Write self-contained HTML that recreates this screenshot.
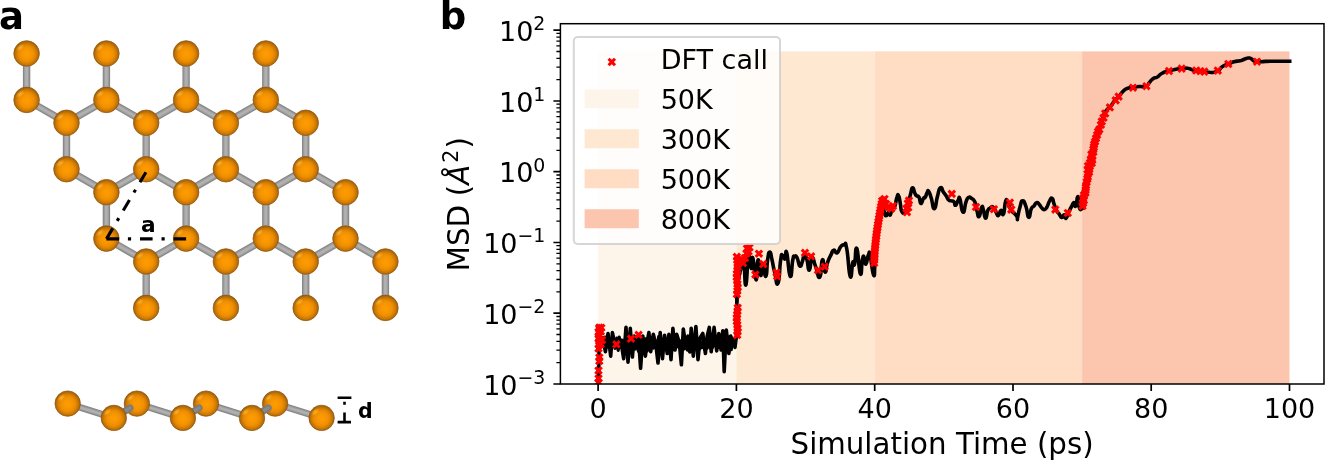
<!DOCTYPE html>
<html lang="en">
<head>
<meta charset="utf-8">
<title>Figure: structure and MSD vs simulation time</title>
<style>html,body{margin:0;padding:0;background:#fff;}body{width:1325px;height:460px;overflow:hidden;}svg{display:block;}</style>
</head>
<body>
<svg width="1325" height="460" viewBox="0 0 1325 460">
<defs>
<radialGradient id="at" cx="0.5" cy="0.52" r="0.52">
<stop offset="0" stop-color="#ff9c00"/>
<stop offset="0.3" stop-color="#f99700"/>
<stop offset="0.55" stop-color="#ee8f02"/>
<stop offset="0.74" stop-color="#d47d04"/>
<stop offset="0.9" stop-color="#b26a06"/>
<stop offset="1" stop-color="#94590a"/>
</radialGradient>
<radialGradient id="hl" cx="0.5" cy="0.5" r="0.5">
<stop offset="0" stop-color="#ffba3c" stop-opacity="0.85"/>
<stop offset="1" stop-color="#ffba3c" stop-opacity="0"/>
</radialGradient>
<clipPath id="axclip"><rect x="560.4" y="23.7" width="763.6" height="360.3"/></clipPath>
<path id="mk" d="M-4.3,-2.15 L-2.15,-4.3 L0,-2.15 L2.15,-4.3 L4.3,-2.15 L2.15,0 L4.3,2.15 L2.15,4.3 L0,2.15 L-2.15,4.3 L-4.3,2.15 L-2.15,0 Z"/>
</defs>
<rect width="1325" height="460" fill="#ffffff"/>
<g id="panel-a">
<line x1="26.6" y1="53.5" x2="26.6" y2="99.9" stroke="#878787" stroke-width="7.4"/>
<line x1="26.6" y1="53.5" x2="26.6" y2="99.9" stroke="#9d9d9d" stroke-width="5.2"/>
<line x1="26.6" y1="53.5" x2="26.6" y2="99.9" stroke="#b0b0b0" stroke-width="2.8"/>
<line x1="66.5" y1="122.8" x2="66.5" y2="169.2" stroke="#878787" stroke-width="7.4"/>
<line x1="66.5" y1="122.8" x2="66.5" y2="169.2" stroke="#9d9d9d" stroke-width="5.2"/>
<line x1="66.5" y1="122.8" x2="66.5" y2="169.2" stroke="#b0b0b0" stroke-width="2.8"/>
<line x1="106.4" y1="192.2" x2="106.4" y2="238.6" stroke="#878787" stroke-width="7.4"/>
<line x1="106.4" y1="192.2" x2="106.4" y2="238.6" stroke="#9d9d9d" stroke-width="5.2"/>
<line x1="106.4" y1="192.2" x2="106.4" y2="238.6" stroke="#b0b0b0" stroke-width="2.8"/>
<line x1="146.2" y1="261.5" x2="146.2" y2="307.9" stroke="#878787" stroke-width="7.4"/>
<line x1="146.2" y1="261.5" x2="146.2" y2="307.9" stroke="#9d9d9d" stroke-width="5.2"/>
<line x1="146.2" y1="261.5" x2="146.2" y2="307.9" stroke="#b0b0b0" stroke-width="2.8"/>
<line x1="26.6" y1="99.9" x2="66.5" y2="122.8" stroke="#878787" stroke-width="7.4"/>
<line x1="26.6" y1="99.9" x2="66.5" y2="122.8" stroke="#9d9d9d" stroke-width="5.2"/>
<line x1="26.6" y1="99.9" x2="66.5" y2="122.8" stroke="#b0b0b0" stroke-width="2.8"/>
<line x1="66.5" y1="169.2" x2="106.4" y2="192.2" stroke="#878787" stroke-width="7.4"/>
<line x1="66.5" y1="169.2" x2="106.4" y2="192.2" stroke="#9d9d9d" stroke-width="5.2"/>
<line x1="66.5" y1="169.2" x2="106.4" y2="192.2" stroke="#b0b0b0" stroke-width="2.8"/>
<line x1="106.4" y1="238.6" x2="146.2" y2="261.5" stroke="#878787" stroke-width="7.4"/>
<line x1="106.4" y1="238.6" x2="146.2" y2="261.5" stroke="#9d9d9d" stroke-width="5.2"/>
<line x1="106.4" y1="238.6" x2="146.2" y2="261.5" stroke="#b0b0b0" stroke-width="2.8"/>
<line x1="106.4" y1="53.5" x2="106.4" y2="99.9" stroke="#878787" stroke-width="7.4"/>
<line x1="106.4" y1="53.5" x2="106.4" y2="99.9" stroke="#9d9d9d" stroke-width="5.2"/>
<line x1="106.4" y1="53.5" x2="106.4" y2="99.9" stroke="#b0b0b0" stroke-width="2.8"/>
<line x1="146.2" y1="122.8" x2="146.2" y2="169.2" stroke="#878787" stroke-width="7.4"/>
<line x1="146.2" y1="122.8" x2="146.2" y2="169.2" stroke="#9d9d9d" stroke-width="5.2"/>
<line x1="146.2" y1="122.8" x2="146.2" y2="169.2" stroke="#b0b0b0" stroke-width="2.8"/>
<line x1="186.1" y1="192.2" x2="186.1" y2="238.6" stroke="#878787" stroke-width="7.4"/>
<line x1="186.1" y1="192.2" x2="186.1" y2="238.6" stroke="#9d9d9d" stroke-width="5.2"/>
<line x1="186.1" y1="192.2" x2="186.1" y2="238.6" stroke="#b0b0b0" stroke-width="2.8"/>
<line x1="225.9" y1="261.5" x2="225.9" y2="307.9" stroke="#878787" stroke-width="7.4"/>
<line x1="225.9" y1="261.5" x2="225.9" y2="307.9" stroke="#9d9d9d" stroke-width="5.2"/>
<line x1="225.9" y1="261.5" x2="225.9" y2="307.9" stroke="#b0b0b0" stroke-width="2.8"/>
<line x1="106.4" y1="99.9" x2="146.2" y2="122.8" stroke="#878787" stroke-width="7.4"/>
<line x1="106.4" y1="99.9" x2="146.2" y2="122.8" stroke="#9d9d9d" stroke-width="5.2"/>
<line x1="106.4" y1="99.9" x2="146.2" y2="122.8" stroke="#b0b0b0" stroke-width="2.8"/>
<line x1="106.4" y1="99.9" x2="66.5" y2="122.8" stroke="#878787" stroke-width="7.4"/>
<line x1="106.4" y1="99.9" x2="66.5" y2="122.8" stroke="#9d9d9d" stroke-width="5.2"/>
<line x1="106.4" y1="99.9" x2="66.5" y2="122.8" stroke="#b0b0b0" stroke-width="2.8"/>
<line x1="146.2" y1="169.2" x2="186.1" y2="192.2" stroke="#878787" stroke-width="7.4"/>
<line x1="146.2" y1="169.2" x2="186.1" y2="192.2" stroke="#9d9d9d" stroke-width="5.2"/>
<line x1="146.2" y1="169.2" x2="186.1" y2="192.2" stroke="#b0b0b0" stroke-width="2.8"/>
<line x1="146.2" y1="169.2" x2="106.4" y2="192.2" stroke="#878787" stroke-width="7.4"/>
<line x1="146.2" y1="169.2" x2="106.4" y2="192.2" stroke="#9d9d9d" stroke-width="5.2"/>
<line x1="146.2" y1="169.2" x2="106.4" y2="192.2" stroke="#b0b0b0" stroke-width="2.8"/>
<line x1="186.1" y1="238.6" x2="225.9" y2="261.5" stroke="#878787" stroke-width="7.4"/>
<line x1="186.1" y1="238.6" x2="225.9" y2="261.5" stroke="#9d9d9d" stroke-width="5.2"/>
<line x1="186.1" y1="238.6" x2="225.9" y2="261.5" stroke="#b0b0b0" stroke-width="2.8"/>
<line x1="186.1" y1="238.6" x2="146.2" y2="261.5" stroke="#878787" stroke-width="7.4"/>
<line x1="186.1" y1="238.6" x2="146.2" y2="261.5" stroke="#9d9d9d" stroke-width="5.2"/>
<line x1="186.1" y1="238.6" x2="146.2" y2="261.5" stroke="#b0b0b0" stroke-width="2.8"/>
<line x1="186.1" y1="53.5" x2="186.1" y2="99.9" stroke="#878787" stroke-width="7.4"/>
<line x1="186.1" y1="53.5" x2="186.1" y2="99.9" stroke="#9d9d9d" stroke-width="5.2"/>
<line x1="186.1" y1="53.5" x2="186.1" y2="99.9" stroke="#b0b0b0" stroke-width="2.8"/>
<line x1="225.9" y1="122.8" x2="225.9" y2="169.2" stroke="#878787" stroke-width="7.4"/>
<line x1="225.9" y1="122.8" x2="225.9" y2="169.2" stroke="#9d9d9d" stroke-width="5.2"/>
<line x1="225.9" y1="122.8" x2="225.9" y2="169.2" stroke="#b0b0b0" stroke-width="2.8"/>
<line x1="265.8" y1="192.2" x2="265.8" y2="238.6" stroke="#878787" stroke-width="7.4"/>
<line x1="265.8" y1="192.2" x2="265.8" y2="238.6" stroke="#9d9d9d" stroke-width="5.2"/>
<line x1="265.8" y1="192.2" x2="265.8" y2="238.6" stroke="#b0b0b0" stroke-width="2.8"/>
<line x1="305.7" y1="261.5" x2="305.7" y2="307.9" stroke="#878787" stroke-width="7.4"/>
<line x1="305.7" y1="261.5" x2="305.7" y2="307.9" stroke="#9d9d9d" stroke-width="5.2"/>
<line x1="305.7" y1="261.5" x2="305.7" y2="307.9" stroke="#b0b0b0" stroke-width="2.8"/>
<line x1="186.1" y1="99.9" x2="225.9" y2="122.8" stroke="#878787" stroke-width="7.4"/>
<line x1="186.1" y1="99.9" x2="225.9" y2="122.8" stroke="#9d9d9d" stroke-width="5.2"/>
<line x1="186.1" y1="99.9" x2="225.9" y2="122.8" stroke="#b0b0b0" stroke-width="2.8"/>
<line x1="186.1" y1="99.9" x2="146.2" y2="122.8" stroke="#878787" stroke-width="7.4"/>
<line x1="186.1" y1="99.9" x2="146.2" y2="122.8" stroke="#9d9d9d" stroke-width="5.2"/>
<line x1="186.1" y1="99.9" x2="146.2" y2="122.8" stroke="#b0b0b0" stroke-width="2.8"/>
<line x1="225.9" y1="169.2" x2="265.8" y2="192.2" stroke="#878787" stroke-width="7.4"/>
<line x1="225.9" y1="169.2" x2="265.8" y2="192.2" stroke="#9d9d9d" stroke-width="5.2"/>
<line x1="225.9" y1="169.2" x2="265.8" y2="192.2" stroke="#b0b0b0" stroke-width="2.8"/>
<line x1="225.9" y1="169.2" x2="186.1" y2="192.2" stroke="#878787" stroke-width="7.4"/>
<line x1="225.9" y1="169.2" x2="186.1" y2="192.2" stroke="#9d9d9d" stroke-width="5.2"/>
<line x1="225.9" y1="169.2" x2="186.1" y2="192.2" stroke="#b0b0b0" stroke-width="2.8"/>
<line x1="265.8" y1="238.6" x2="305.7" y2="261.5" stroke="#878787" stroke-width="7.4"/>
<line x1="265.8" y1="238.6" x2="305.7" y2="261.5" stroke="#9d9d9d" stroke-width="5.2"/>
<line x1="265.8" y1="238.6" x2="305.7" y2="261.5" stroke="#b0b0b0" stroke-width="2.8"/>
<line x1="265.8" y1="238.6" x2="225.9" y2="261.5" stroke="#878787" stroke-width="7.4"/>
<line x1="265.8" y1="238.6" x2="225.9" y2="261.5" stroke="#9d9d9d" stroke-width="5.2"/>
<line x1="265.8" y1="238.6" x2="225.9" y2="261.5" stroke="#b0b0b0" stroke-width="2.8"/>
<line x1="265.8" y1="53.5" x2="265.8" y2="99.9" stroke="#878787" stroke-width="7.4"/>
<line x1="265.8" y1="53.5" x2="265.8" y2="99.9" stroke="#9d9d9d" stroke-width="5.2"/>
<line x1="265.8" y1="53.5" x2="265.8" y2="99.9" stroke="#b0b0b0" stroke-width="2.8"/>
<line x1="305.7" y1="122.8" x2="305.7" y2="169.2" stroke="#878787" stroke-width="7.4"/>
<line x1="305.7" y1="122.8" x2="305.7" y2="169.2" stroke="#9d9d9d" stroke-width="5.2"/>
<line x1="305.7" y1="122.8" x2="305.7" y2="169.2" stroke="#b0b0b0" stroke-width="2.8"/>
<line x1="345.5" y1="192.2" x2="345.5" y2="238.6" stroke="#878787" stroke-width="7.4"/>
<line x1="345.5" y1="192.2" x2="345.5" y2="238.6" stroke="#9d9d9d" stroke-width="5.2"/>
<line x1="345.5" y1="192.2" x2="345.5" y2="238.6" stroke="#b0b0b0" stroke-width="2.8"/>
<line x1="385.4" y1="261.5" x2="385.4" y2="307.9" stroke="#878787" stroke-width="7.4"/>
<line x1="385.4" y1="261.5" x2="385.4" y2="307.9" stroke="#9d9d9d" stroke-width="5.2"/>
<line x1="385.4" y1="261.5" x2="385.4" y2="307.9" stroke="#b0b0b0" stroke-width="2.8"/>
<line x1="265.8" y1="99.9" x2="305.7" y2="122.8" stroke="#878787" stroke-width="7.4"/>
<line x1="265.8" y1="99.9" x2="305.7" y2="122.8" stroke="#9d9d9d" stroke-width="5.2"/>
<line x1="265.8" y1="99.9" x2="305.7" y2="122.8" stroke="#b0b0b0" stroke-width="2.8"/>
<line x1="265.8" y1="99.9" x2="225.9" y2="122.8" stroke="#878787" stroke-width="7.4"/>
<line x1="265.8" y1="99.9" x2="225.9" y2="122.8" stroke="#9d9d9d" stroke-width="5.2"/>
<line x1="265.8" y1="99.9" x2="225.9" y2="122.8" stroke="#b0b0b0" stroke-width="2.8"/>
<line x1="305.7" y1="169.2" x2="345.5" y2="192.2" stroke="#878787" stroke-width="7.4"/>
<line x1="305.7" y1="169.2" x2="345.5" y2="192.2" stroke="#9d9d9d" stroke-width="5.2"/>
<line x1="305.7" y1="169.2" x2="345.5" y2="192.2" stroke="#b0b0b0" stroke-width="2.8"/>
<line x1="305.7" y1="169.2" x2="265.8" y2="192.2" stroke="#878787" stroke-width="7.4"/>
<line x1="305.7" y1="169.2" x2="265.8" y2="192.2" stroke="#9d9d9d" stroke-width="5.2"/>
<line x1="305.7" y1="169.2" x2="265.8" y2="192.2" stroke="#b0b0b0" stroke-width="2.8"/>
<line x1="345.5" y1="238.6" x2="385.4" y2="261.5" stroke="#878787" stroke-width="7.4"/>
<line x1="345.5" y1="238.6" x2="385.4" y2="261.5" stroke="#9d9d9d" stroke-width="5.2"/>
<line x1="345.5" y1="238.6" x2="385.4" y2="261.5" stroke="#b0b0b0" stroke-width="2.8"/>
<line x1="345.5" y1="238.6" x2="305.7" y2="261.5" stroke="#878787" stroke-width="7.4"/>
<line x1="345.5" y1="238.6" x2="305.7" y2="261.5" stroke="#9d9d9d" stroke-width="5.2"/>
<line x1="345.5" y1="238.6" x2="305.7" y2="261.5" stroke="#b0b0b0" stroke-width="2.8"/>
<circle cx="26.6" cy="53.5" r="12.8" fill="url(#at)" stroke="#8f5812" stroke-opacity="0.85" stroke-width="0.9"/>
<ellipse cx="20.2" cy="47.6" rx="5.2" ry="2.7" fill="url(#hl)" transform="rotate(-40 20.2 47.6)"/>
<circle cx="106.4" cy="53.5" r="12.8" fill="url(#at)" stroke="#8f5812" stroke-opacity="0.85" stroke-width="0.9"/>
<ellipse cx="100.0" cy="47.6" rx="5.2" ry="2.7" fill="url(#hl)" transform="rotate(-40 100.0 47.6)"/>
<circle cx="186.1" cy="53.5" r="12.8" fill="url(#at)" stroke="#8f5812" stroke-opacity="0.85" stroke-width="0.9"/>
<ellipse cx="179.7" cy="47.6" rx="5.2" ry="2.7" fill="url(#hl)" transform="rotate(-40 179.7 47.6)"/>
<circle cx="265.8" cy="53.5" r="12.8" fill="url(#at)" stroke="#8f5812" stroke-opacity="0.85" stroke-width="0.9"/>
<ellipse cx="259.4" cy="47.6" rx="5.2" ry="2.7" fill="url(#hl)" transform="rotate(-40 259.4 47.6)"/>
<circle cx="26.6" cy="99.9" r="12.8" fill="url(#at)" stroke="#8f5812" stroke-opacity="0.85" stroke-width="0.9"/>
<ellipse cx="20.2" cy="94.0" rx="5.2" ry="2.7" fill="url(#hl)" transform="rotate(-40 20.2 94.0)"/>
<circle cx="106.4" cy="99.9" r="12.8" fill="url(#at)" stroke="#8f5812" stroke-opacity="0.85" stroke-width="0.9"/>
<ellipse cx="100.0" cy="94.0" rx="5.2" ry="2.7" fill="url(#hl)" transform="rotate(-40 100.0 94.0)"/>
<circle cx="186.1" cy="99.9" r="12.8" fill="url(#at)" stroke="#8f5812" stroke-opacity="0.85" stroke-width="0.9"/>
<ellipse cx="179.7" cy="94.0" rx="5.2" ry="2.7" fill="url(#hl)" transform="rotate(-40 179.7 94.0)"/>
<circle cx="265.8" cy="99.9" r="12.8" fill="url(#at)" stroke="#8f5812" stroke-opacity="0.85" stroke-width="0.9"/>
<ellipse cx="259.4" cy="94.0" rx="5.2" ry="2.7" fill="url(#hl)" transform="rotate(-40 259.4 94.0)"/>
<circle cx="66.5" cy="122.8" r="12.8" fill="url(#at)" stroke="#8f5812" stroke-opacity="0.85" stroke-width="0.9"/>
<ellipse cx="60.1" cy="116.9" rx="5.2" ry="2.7" fill="url(#hl)" transform="rotate(-40 60.1 116.9)"/>
<circle cx="146.2" cy="122.8" r="12.8" fill="url(#at)" stroke="#8f5812" stroke-opacity="0.85" stroke-width="0.9"/>
<ellipse cx="139.8" cy="116.9" rx="5.2" ry="2.7" fill="url(#hl)" transform="rotate(-40 139.8 116.9)"/>
<circle cx="225.9" cy="122.8" r="12.8" fill="url(#at)" stroke="#8f5812" stroke-opacity="0.85" stroke-width="0.9"/>
<ellipse cx="219.5" cy="116.9" rx="5.2" ry="2.7" fill="url(#hl)" transform="rotate(-40 219.5 116.9)"/>
<circle cx="305.7" cy="122.8" r="12.8" fill="url(#at)" stroke="#8f5812" stroke-opacity="0.85" stroke-width="0.9"/>
<ellipse cx="299.3" cy="116.9" rx="5.2" ry="2.7" fill="url(#hl)" transform="rotate(-40 299.3 116.9)"/>
<circle cx="66.5" cy="169.2" r="12.8" fill="url(#at)" stroke="#8f5812" stroke-opacity="0.85" stroke-width="0.9"/>
<ellipse cx="60.1" cy="163.3" rx="5.2" ry="2.7" fill="url(#hl)" transform="rotate(-40 60.1 163.3)"/>
<circle cx="146.2" cy="169.2" r="12.8" fill="url(#at)" stroke="#8f5812" stroke-opacity="0.85" stroke-width="0.9"/>
<ellipse cx="139.8" cy="163.3" rx="5.2" ry="2.7" fill="url(#hl)" transform="rotate(-40 139.8 163.3)"/>
<circle cx="225.9" cy="169.2" r="12.8" fill="url(#at)" stroke="#8f5812" stroke-opacity="0.85" stroke-width="0.9"/>
<ellipse cx="219.5" cy="163.3" rx="5.2" ry="2.7" fill="url(#hl)" transform="rotate(-40 219.5 163.3)"/>
<circle cx="305.7" cy="169.2" r="12.8" fill="url(#at)" stroke="#8f5812" stroke-opacity="0.85" stroke-width="0.9"/>
<ellipse cx="299.3" cy="163.3" rx="5.2" ry="2.7" fill="url(#hl)" transform="rotate(-40 299.3 163.3)"/>
<circle cx="106.4" cy="192.2" r="12.8" fill="url(#at)" stroke="#8f5812" stroke-opacity="0.85" stroke-width="0.9"/>
<ellipse cx="100.0" cy="186.3" rx="5.2" ry="2.7" fill="url(#hl)" transform="rotate(-40 100.0 186.3)"/>
<circle cx="186.1" cy="192.2" r="12.8" fill="url(#at)" stroke="#8f5812" stroke-opacity="0.85" stroke-width="0.9"/>
<ellipse cx="179.7" cy="186.3" rx="5.2" ry="2.7" fill="url(#hl)" transform="rotate(-40 179.7 186.3)"/>
<circle cx="265.8" cy="192.2" r="12.8" fill="url(#at)" stroke="#8f5812" stroke-opacity="0.85" stroke-width="0.9"/>
<ellipse cx="259.4" cy="186.3" rx="5.2" ry="2.7" fill="url(#hl)" transform="rotate(-40 259.4 186.3)"/>
<circle cx="345.5" cy="192.2" r="12.8" fill="url(#at)" stroke="#8f5812" stroke-opacity="0.85" stroke-width="0.9"/>
<ellipse cx="339.1" cy="186.3" rx="5.2" ry="2.7" fill="url(#hl)" transform="rotate(-40 339.1 186.3)"/>
<circle cx="106.4" cy="238.6" r="12.8" fill="url(#at)" stroke="#8f5812" stroke-opacity="0.85" stroke-width="0.9"/>
<ellipse cx="100.0" cy="232.7" rx="5.2" ry="2.7" fill="url(#hl)" transform="rotate(-40 100.0 232.7)"/>
<circle cx="186.1" cy="238.6" r="12.8" fill="url(#at)" stroke="#8f5812" stroke-opacity="0.85" stroke-width="0.9"/>
<ellipse cx="179.7" cy="232.7" rx="5.2" ry="2.7" fill="url(#hl)" transform="rotate(-40 179.7 232.7)"/>
<circle cx="265.8" cy="238.6" r="12.8" fill="url(#at)" stroke="#8f5812" stroke-opacity="0.85" stroke-width="0.9"/>
<ellipse cx="259.4" cy="232.7" rx="5.2" ry="2.7" fill="url(#hl)" transform="rotate(-40 259.4 232.7)"/>
<circle cx="345.5" cy="238.6" r="12.8" fill="url(#at)" stroke="#8f5812" stroke-opacity="0.85" stroke-width="0.9"/>
<ellipse cx="339.1" cy="232.7" rx="5.2" ry="2.7" fill="url(#hl)" transform="rotate(-40 339.1 232.7)"/>
<circle cx="146.2" cy="261.5" r="12.8" fill="url(#at)" stroke="#8f5812" stroke-opacity="0.85" stroke-width="0.9"/>
<ellipse cx="139.8" cy="255.6" rx="5.2" ry="2.7" fill="url(#hl)" transform="rotate(-40 139.8 255.6)"/>
<circle cx="225.9" cy="261.5" r="12.8" fill="url(#at)" stroke="#8f5812" stroke-opacity="0.85" stroke-width="0.9"/>
<ellipse cx="219.5" cy="255.6" rx="5.2" ry="2.7" fill="url(#hl)" transform="rotate(-40 219.5 255.6)"/>
<circle cx="305.7" cy="261.5" r="12.8" fill="url(#at)" stroke="#8f5812" stroke-opacity="0.85" stroke-width="0.9"/>
<ellipse cx="299.3" cy="255.6" rx="5.2" ry="2.7" fill="url(#hl)" transform="rotate(-40 299.3 255.6)"/>
<circle cx="385.4" cy="261.5" r="12.8" fill="url(#at)" stroke="#8f5812" stroke-opacity="0.85" stroke-width="0.9"/>
<ellipse cx="379.0" cy="255.6" rx="5.2" ry="2.7" fill="url(#hl)" transform="rotate(-40 379.0 255.6)"/>
<circle cx="146.2" cy="307.9" r="12.8" fill="url(#at)" stroke="#8f5812" stroke-opacity="0.85" stroke-width="0.9"/>
<ellipse cx="139.8" cy="302.0" rx="5.2" ry="2.7" fill="url(#hl)" transform="rotate(-40 139.8 302.0)"/>
<circle cx="225.9" cy="307.9" r="12.8" fill="url(#at)" stroke="#8f5812" stroke-opacity="0.85" stroke-width="0.9"/>
<ellipse cx="219.5" cy="302.0" rx="5.2" ry="2.7" fill="url(#hl)" transform="rotate(-40 219.5 302.0)"/>
<circle cx="305.7" cy="307.9" r="12.8" fill="url(#at)" stroke="#8f5812" stroke-opacity="0.85" stroke-width="0.9"/>
<ellipse cx="299.3" cy="302.0" rx="5.2" ry="2.7" fill="url(#hl)" transform="rotate(-40 299.3 302.0)"/>
<circle cx="385.4" cy="307.9" r="12.8" fill="url(#at)" stroke="#8f5812" stroke-opacity="0.85" stroke-width="0.9"/>
<ellipse cx="379.0" cy="302.0" rx="5.2" ry="2.7" fill="url(#hl)" transform="rotate(-40 379.0 302.0)"/>
<g stroke="#000" stroke-width="3.1" fill="none">
<path d="M106.4,238.9 H186.1" stroke-dasharray="12.6 8.9 3.2 8.9"/>
<path d="M106.5,238.9 L145.9,172.3" stroke-dasharray="12.2 8.75 3.2 8.75"/>
</g>
<text x="141.1" y="232.35" font-family="'DejaVu Sans','Liberation Sans',sans-serif" font-weight="bold" font-size="21.7">a</text>
<line x1="67.7" y1="403.6" x2="113.8" y2="417.9" stroke="#878787" stroke-width="6.8"/>
<line x1="67.7" y1="403.6" x2="113.8" y2="417.9" stroke="#9d9d9d" stroke-width="4.6"/>
<line x1="67.7" y1="403.6" x2="113.8" y2="417.9" stroke="#b0b0b0" stroke-width="2.2"/>
<line x1="136.9" y1="403.6" x2="182.9" y2="417.9" stroke="#878787" stroke-width="6.8"/>
<line x1="136.9" y1="403.6" x2="182.9" y2="417.9" stroke="#9d9d9d" stroke-width="4.6"/>
<line x1="136.9" y1="403.6" x2="182.9" y2="417.9" stroke="#b0b0b0" stroke-width="2.2"/>
<line x1="206.0" y1="403.6" x2="252.0" y2="417.9" stroke="#878787" stroke-width="6.8"/>
<line x1="206.0" y1="403.6" x2="252.0" y2="417.9" stroke="#9d9d9d" stroke-width="4.6"/>
<line x1="206.0" y1="403.6" x2="252.0" y2="417.9" stroke="#b0b0b0" stroke-width="2.2"/>
<line x1="275.1" y1="403.6" x2="321.6" y2="417.9" stroke="#878787" stroke-width="6.8"/>
<line x1="275.1" y1="403.6" x2="321.6" y2="417.9" stroke="#9d9d9d" stroke-width="4.6"/>
<line x1="275.1" y1="403.6" x2="321.6" y2="417.9" stroke="#b0b0b0" stroke-width="2.2"/>
<circle cx="67.7" cy="403.6" r="12.7" fill="url(#at)" stroke="#8f5812" stroke-opacity="0.85" stroke-width="0.9"/>
<ellipse cx="61.3" cy="397.7" rx="5.2" ry="2.7" fill="url(#hl)" transform="rotate(-40 61.3 397.7)"/>
<circle cx="136.9" cy="403.6" r="12.7" fill="url(#at)" stroke="#8f5812" stroke-opacity="0.85" stroke-width="0.9"/>
<ellipse cx="130.5" cy="397.7" rx="5.2" ry="2.7" fill="url(#hl)" transform="rotate(-40 130.5 397.7)"/>
<circle cx="206.0" cy="403.6" r="12.7" fill="url(#at)" stroke="#8f5812" stroke-opacity="0.85" stroke-width="0.9"/>
<ellipse cx="199.6" cy="397.7" rx="5.2" ry="2.7" fill="url(#hl)" transform="rotate(-40 199.6 397.7)"/>
<circle cx="275.1" cy="403.6" r="12.7" fill="url(#at)" stroke="#8f5812" stroke-opacity="0.85" stroke-width="0.9"/>
<ellipse cx="268.7" cy="397.7" rx="5.2" ry="2.7" fill="url(#hl)" transform="rotate(-40 268.7 397.7)"/>
<line x1="113.8" y1="417.9" x2="130.0" y2="407.9" stroke-linecap="round" stroke="#7b7b7b" stroke-width="7"/>
<line x1="113.8" y1="417.9" x2="130.0" y2="407.9" stroke-linecap="round" stroke="#898989" stroke-width="3.4"/>
<line x1="182.9" y1="417.9" x2="199.1" y2="407.9" stroke-linecap="round" stroke="#7b7b7b" stroke-width="7"/>
<line x1="182.9" y1="417.9" x2="199.1" y2="407.9" stroke-linecap="round" stroke="#898989" stroke-width="3.4"/>
<line x1="252.0" y1="417.9" x2="268.2" y2="407.9" stroke-linecap="round" stroke="#7b7b7b" stroke-width="7"/>
<line x1="252.0" y1="417.9" x2="268.2" y2="407.9" stroke-linecap="round" stroke="#898989" stroke-width="3.4"/>
<circle cx="113.8" cy="417.9" r="12.7" fill="url(#at)" stroke="#8f5812" stroke-opacity="0.85" stroke-width="0.9"/>
<ellipse cx="107.4" cy="412.0" rx="5.2" ry="2.7" fill="url(#hl)" transform="rotate(-40 107.4 412.0)"/>
<circle cx="182.9" cy="417.9" r="12.7" fill="url(#at)" stroke="#8f5812" stroke-opacity="0.85" stroke-width="0.9"/>
<ellipse cx="176.5" cy="412.0" rx="5.2" ry="2.7" fill="url(#hl)" transform="rotate(-40 176.5 412.0)"/>
<circle cx="252.0" cy="417.9" r="12.7" fill="url(#at)" stroke="#8f5812" stroke-opacity="0.85" stroke-width="0.9"/>
<ellipse cx="245.6" cy="412.0" rx="5.2" ry="2.7" fill="url(#hl)" transform="rotate(-40 245.6 412.0)"/>
<circle cx="321.6" cy="417.9" r="12.7" fill="url(#at)" stroke="#8f5812" stroke-opacity="0.85" stroke-width="0.9"/>
<ellipse cx="315.2" cy="412.0" rx="5.2" ry="2.7" fill="url(#hl)" transform="rotate(-40 315.2 412.0)"/>
<g stroke="#000" stroke-width="2.6" fill="none">
<path d="M337.6,397.7 H351.4 M337.6,422.1 H351 M344.5,401.7 v3.0 M344.5,412.4 V422"/>
</g>
<text x="357.9" y="418.1" font-family="'DejaVu Sans','Liberation Sans',sans-serif" font-weight="bold" font-size="20.5">d</text>
<text x="-0.9" y="28.7" font-family="'DejaVu Sans','Liberation Sans',sans-serif" font-weight="bold" font-size="37">a</text>
</g>
<g id="panel-b">
<text x="439.8" y="28.7" font-family="'DejaVu Sans','Liberation Sans',sans-serif" font-weight="bold" font-size="37">b</text>
<rect x="598.1" y="51.4" width="138.3" height="332.6" fill="#fef5ea"/>
<rect x="736.4" y="51.4" width="138.3" height="332.6" fill="#fee8d1"/>
<rect x="874.7" y="51.4" width="207.4" height="332.6" fill="#feddc4"/>
<rect x="1082.1" y="51.4" width="207.4" height="332.6" fill="#fcc5ae"/>
<g clip-path="url(#axclip)">
<g fill="none" stroke="#000" stroke-width="3.6" stroke-linejoin="round">
<polyline points="604.0,346.6 605.2,337.1 606.4,347.4 607.8,339.7 609.3,345.2 610.7,339.8 611.9,347.1 613.7,339.7 614.9,348.3 616.8,338.1 618.2,350.3 619.3,337.2 620.7,346.9 621.9,340.1 623.6,347.6 625.2,339.1 626.6,349.7 627.7,342.1 629.0,350.6 630.4,341.3 632.0,349.9 633.4,339.4 635.0,349.1 636.6,340.6 638.4,351.2 639.7,338.5 640.9,349.7 642.6,341.9 644.1,347.6 645.7,338.8 647.3,350.9 648.6,338.6 650.2,349.1 651.7,337.5 653.5,348.1 655.2,340.5 656.8,348.4 658.7,336.6 660.1,346.9 661.7,340.0 663.2,345.8 664.4,339.7 666.1,345.6 667.4,338.3 669.2,345.6 670.6,337.9 672.4,349.2 674.2,339.5 675.6,347.6 677.5,337.0 678.7,347.3 680.0,340.7 681.5,349.6 682.8,342.2 684.2,349.0 685.7,338.3 687.4,350.1 689.0,339.8 690.1,352.0 691.9,339.1 693.6,349.8 695.0,342.5 696.6,348.1 697.8,341.8 699.0,349.2 700.2,342.5 701.4,347.8 702.8,342.0 704.6,349.6 705.8,340.5 707.2,348.1 708.4,337.4 710.3,348.0 711.7,340.3 712.9,347.1 714.2,336.7 715.5,345.4 717.3,337.7 718.5,347.5 719.7,337.6 721.5,348.9 723.2,338.9 724.6,345.9 726.3,337.9 728.0,346.9 729.3,336.9 731.2,349.7 732.9,337.5" stroke-width="3.2"/>
<polyline points="598.5,384.8 598.8,367.4 599.2,337.8 602.8,337.8 605.4,351.7 608.0,333.5 610.7,356.1 612.4,332.6 615.0,344.8 616.7,347.4 619.3,338.7 622.0,348.3 623.7,358.7 626.0,327.4 628.0,362.2 630.3,328.3 632.4,357.0 634.1,336.1 636.7,344.8 638.5,337.8 640.6,368.3 642.8,336.1 645.4,356.1 647.2,341.3 648.9,332.6 650.7,351.7 653.3,334.3 655.9,344.8 658.0,363.0 660.2,332.6 662.5,358.7 664.6,335.2 667.2,353.5 668.9,334.3 671.0,359.6 672.9,328.3 675.0,350.0 676.7,334.3 679.3,343.0 681.4,364.8 683.3,329.1 685.4,343.0 688.0,336.1 689.8,351.7 691.2,328.3 693.3,356.1 695.9,326.5 698.0,359.6 700.2,337.8 702.8,333.5 705.4,353.5 707.2,336.1 709.3,327.4 711.2,351.7 714.1,327.4 716.7,350.9 718.8,333.5 721.1,350.0 722.8,330.9 724.2,371.7 726.3,330.0 728.9,353.5 730.7,336.1 733.3,343.0 735.0,347.4 736.4,336.1 736.8,301.5 737.5,282.4"/>
<path d="M736.8,301.5 C737.0,295.8 736.9,289.7 737.5,282.4 C738.1,275.1 737.7,281.9 738.9,277.2 C740.1,272.5 740.1,271.2 741.5,266.7 C743.0,262.3 742.5,256.9 743.8,262.4 C745.1,267.9 744.5,286.8 745.9,285.0 C747.3,283.2 746.9,261.3 748.5,256.3 C750.0,251.3 749.8,268.0 751.1,268.5 C752.4,269.0 751.4,254.7 752.8,258.0 C754.3,261.4 754.4,279.3 756.0,279.8 C757.5,280.3 756.6,261.1 758.0,259.8 C759.5,258.5 759.3,274.4 760.7,275.4 C762.0,276.5 760.8,263.0 762.4,263.3 C764.0,263.5 764.3,277.3 765.9,276.3 C767.4,275.3 766.4,267.1 767.6,259.8 C768.8,252.5 768.6,252.0 769.9,252.0 C771.2,252.0 770.5,253.8 772.0,259.8 C773.4,265.8 772.7,264.9 774.6,272.0 C776.4,279.0 776.2,286.9 778.0,283.3 C779.9,279.6 779.3,268.1 780.7,259.8 C782.0,251.4 781.1,255.7 782.4,255.4 C783.7,255.2 783.7,259.7 785.0,258.9 C786.3,258.1 785.2,247.6 786.7,252.8 C788.3,258.0 788.4,274.2 790.2,276.3 C792.0,278.4 791.5,265.8 792.8,259.8 C794.1,253.8 793.3,256.8 794.6,256.3 C795.9,255.8 795.6,255.2 797.2,258.0 C798.7,260.9 798.2,264.8 799.8,265.9 C801.3,266.9 801.1,264.7 802.4,261.5 C803.7,258.4 802.8,256.2 804.1,255.4 C805.4,254.7 805.2,254.5 806.7,258.9 C808.3,263.3 807.8,270.5 809.3,270.2 C810.9,270.0 810.1,259.3 812.0,258.0 C813.8,256.7 813.1,260.1 815.4,265.9 C817.8,271.6 817.7,279.0 819.8,277.2 C821.9,275.3 820.8,261.3 822.4,259.8 C824.0,258.2 823.4,271.2 825.0,272.0 C826.6,272.7 825.8,267.6 827.6,262.4 C829.4,257.2 829.3,258.2 831.1,254.6 C832.9,250.9 831.9,250.7 833.7,250.2 C835.5,249.7 835.1,253.9 837.2,252.8 C839.3,251.8 838.6,249.1 840.7,246.7 C842.7,244.4 842.3,244.5 844.1,245.0 C846.0,245.5 844.9,239.1 846.7,248.5 C848.6,257.9 848.4,272.1 850.2,276.3 C852.0,280.5 851.5,266.0 852.8,262.4 C854.1,258.7 853.4,268.3 854.6,264.1 C855.8,260.0 855.1,245.6 856.8,248.5 C858.5,251.3 858.6,270.3 860.3,273.7 C862.0,277.1 861.2,264.7 862.4,259.8 C863.5,254.8 863.1,255.9 864.1,257.2 C865.2,258.5 864.6,264.9 865.9,264.1 C867.2,263.3 867.2,256.9 868.5,254.6 C869.8,252.2 868.7,250.0 870.2,256.3 C871.8,262.6 872.3,273.6 873.7,275.4 C874.9,277.3 874.3,273.0 874.9,262.4 C875.5,251.8 874.9,250.9 875.7,240.0 C876.4,229.1 876.3,234.4 877.4,226.1 C878.4,217.7 877.8,219.5 879.1,212.2 C880.4,204.9 880.2,201.7 881.7,201.7 C883.3,201.7 883.0,208.0 884.3,212.2 C885.7,216.3 884.8,215.7 886.1,215.7 C887.4,215.7 887.4,212.4 888.7,212.2 C890.0,211.9 889.4,216.3 890.4,214.8 C891.5,213.2 890.9,209.6 892.2,207.0 C893.5,204.3 893.4,209.0 894.8,206.1 C896.2,203.2 895.7,200.5 896.9,197.4 C898.0,194.3 897.6,193.8 898.6,195.7 C899.7,197.5 899.4,198.8 900.3,203.5 C901.3,208.2 900.3,208.7 901.7,211.3 C903.2,213.9 903.4,214.0 905.2,212.2 C907.0,210.3 906.3,210.4 907.8,205.2 C909.4,200.0 909.0,200.0 910.4,194.8 C911.8,189.6 911.2,188.3 912.5,187.8 C913.8,187.3 913.6,190.7 914.8,193.0 C916.0,195.4 915.2,194.3 916.5,195.7 C917.8,197.0 917.8,195.0 919.1,197.4 C920.4,199.7 919.6,203.2 920.9,203.5 C922.2,203.7 922.2,200.1 923.5,198.3 C924.8,196.4 924.2,199.0 925.2,197.4 C926.3,195.8 925.9,194.9 927.0,193.0 C928.0,191.2 927.4,189.7 928.7,191.3 C930.0,192.9 929.6,193.0 931.3,198.3 C933.0,203.5 932.6,209.2 934.4,208.7 C936.3,208.2 935.6,202.8 937.4,196.5 C939.2,190.3 938.5,189.1 940.3,187.8 C942.2,186.5 941.8,189.8 943.5,192.2 C945.2,194.5 944.5,193.3 946.1,195.7 C947.7,198.0 947.1,198.4 948.7,200.0 C950.3,201.6 949.7,200.3 951.3,200.9 C952.9,201.4 952.6,200.4 953.9,201.7 C955.2,203.0 954.3,205.7 955.7,205.2 C957.0,204.7 957.0,201.8 958.3,200.0 C959.6,198.2 958.6,195.5 960.0,199.1 C961.4,202.8 961.1,211.4 963.0,212.2 C964.8,213.0 964.4,206.2 966.1,201.7 C967.8,197.3 967.1,198.4 968.7,197.4 C970.3,196.3 969.5,197.0 971.3,198.3 C973.1,199.6 973.1,198.1 974.8,201.7 C976.5,205.4 975.6,206.0 976.9,210.4 C978.2,214.9 977.7,217.6 979.1,216.5 C980.6,215.5 980.4,208.8 981.7,207.0 C983.0,205.1 982.3,207.0 983.5,210.4 C984.6,213.8 984.3,218.3 985.6,218.3 C986.9,218.3 986.4,213.6 987.8,210.4 C989.3,207.3 988.9,208.9 990.4,207.8 C992.0,206.8 991.5,205.9 993.0,207.0 C994.6,208.0 994.1,208.7 995.7,211.3 C997.2,213.9 996.7,215.9 998.3,215.7 C999.8,215.4 999.3,211.0 1000.9,210.4 C1002.4,209.9 1002.0,216.8 1003.5,213.9 C1004.9,211.0 1004.4,204.0 1005.7,200.9 C1007.0,197.7 1006.2,200.6 1007.8,203.5 C1009.5,206.3 1009.2,207.3 1011.3,210.4 C1013.4,213.6 1013.0,211.8 1014.8,213.9 C1016.6,216.0 1016.6,216.1 1017.4,217.4 C1017.4,218.7 1017.4,221.4 1017.4,218.3 C1018.2,215.1 1018.4,212.2 1020.0,207.0 C1021.6,201.7 1020.8,200.9 1022.6,200.9 C1024.4,200.9 1024.3,202.0 1026.1,207.0 C1027.9,211.9 1027.1,216.9 1028.7,217.4 C1030.3,217.9 1029.7,212.1 1031.3,208.7 C1032.9,205.3 1032.3,207.9 1033.9,206.1 C1035.5,204.3 1035.0,203.1 1036.5,202.6 C1038.1,202.1 1037.6,202.8 1039.1,204.3 C1040.7,205.9 1040.2,206.3 1041.7,207.8 C1043.3,209.4 1042.8,209.8 1044.3,209.6 C1045.9,209.3 1045.4,209.6 1047.0,207.0 C1048.5,204.3 1048.0,203.5 1049.6,200.9 C1051.1,198.3 1050.9,197.5 1052.2,198.3 C1053.5,199.0 1052.6,199.8 1053.9,203.5 C1055.2,207.1 1055.0,207.3 1056.5,210.4 C1058.1,213.6 1057.6,211.8 1059.1,213.9 C1060.7,216.0 1060.2,217.1 1061.7,217.4 C1063.3,217.7 1063.0,214.5 1064.3,214.8 C1065.7,215.0 1064.8,219.0 1066.1,218.3 C1067.4,217.5 1067.1,215.6 1068.7,212.2 C1070.3,208.8 1069.7,209.8 1071.3,207.0 C1072.9,204.1 1072.6,202.9 1073.9,202.6 C1075.2,202.3 1074.5,207.9 1075.7,206.1 C1076.9,204.3 1076.9,196.3 1077.9,196.5 C1079.0,196.8 1078.0,203.3 1079.1,207.0 C1080.3,210.6 1080.4,209.7 1081.7,208.7 C1083.0,207.7 1082.4,210.3 1083.5,203.5 C1084.5,196.7 1084.2,195.0 1085.2,186.1 C1086.3,177.2 1085.9,180.2 1087.0,173.9 C1088.0,167.7 1087.7,168.6 1088.7,165.2 C1089.7,161.8 1088.8,167.8 1090.2,162.6 C1091.6,157.4 1091.5,156.6 1093.5,148.0 C1095.5,139.4 1095.3,139.4 1096.7,134.0 C1098.1,128.6 1097.3,132.2 1098.3,130.0 C1099.3,127.8 1098.7,130.2 1100.0,126.5 C1101.3,122.9 1100.8,122.5 1102.6,117.8 C1104.4,113.1 1103.7,114.3 1106.1,110.9 C1108.4,107.5 1107.8,109.7 1110.4,106.5 C1113.0,103.4 1112.2,103.6 1114.8,100.4 C1117.4,97.3 1116.5,99.0 1119.1,96.1 C1121.7,93.2 1120.9,93.2 1123.5,90.9 C1126.1,88.5 1125.0,89.3 1127.8,88.3 C1130.7,87.2 1129.7,87.9 1133.0,87.4 C1136.4,86.9 1135.2,86.9 1139.1,86.5 C1143.0,86.2 1143.0,87.5 1146.1,86.2 C1149.2,84.9 1147.5,84.4 1149.6,82.2 C1151.7,79.9 1150.7,80.3 1153.0,78.7 C1155.4,77.1 1154.8,78.5 1157.4,77.0 C1160.0,75.4 1158.3,75.3 1161.7,73.5 C1165.1,71.7 1164.8,72.1 1168.7,70.9 C1172.6,69.7 1170.9,70.3 1174.8,69.5 C1178.7,68.7 1177.8,68.6 1181.7,68.3 C1185.7,67.9 1184.4,67.7 1187.8,68.3 C1191.2,68.8 1189.7,69.1 1193.0,70.0 C1196.4,70.9 1195.7,70.7 1199.1,71.2 C1202.5,71.7 1201.2,71.4 1204.3,71.7 C1207.5,72.1 1206.7,72.1 1209.6,72.3 C1212.4,72.4 1211.3,72.8 1213.9,72.3 C1216.5,71.7 1215.7,72.2 1218.3,70.5 C1220.9,68.8 1219.5,68.5 1222.6,66.5 C1225.7,64.5 1225.3,65.3 1228.7,63.9 C1232.1,62.5 1230.5,62.8 1233.9,61.8 C1237.3,60.9 1237.3,61.4 1240.0,60.8 C1242.7,60.2 1241.1,60.4 1243.0,59.7 C1244.9,59.0 1244.5,58.9 1246.3,58.4 C1248.0,57.9 1247.3,57.9 1248.9,58.0 C1250.5,58.2 1249.9,58.0 1251.5,58.9 C1253.1,59.8 1252.3,60.1 1254.1,61.0 C1255.9,61.9 1255.2,61.7 1257.4,61.9 C1259.5,62.2 1258.9,62.0 1261.3,61.8 C1263.6,61.7 1262.5,61.6 1265.2,61.4 C1267.9,61.3 1266.5,61.3 1270.4,61.3 C1274.3,61.3 1272.4,61.3 1278.2,61.3 C1284.0,61.3 1286.3,61.2 1289.7,61.2" stroke-linecap="square"/>
</g>
<g fill="#ff0000">
<use href="#mk" x="598.5" y="382.5"/>
<use href="#mk" x="598.5" y="378.5"/>
<use href="#mk" x="598.5" y="370.5"/>
<use href="#mk" x="599.3" y="361.0"/>
<use href="#mk" x="599.3" y="357.5"/>
<use href="#mk" x="598.5" y="348.5"/>
<use href="#mk" x="599.3" y="345.0"/>
<use href="#mk" x="599.3" y="341.5"/>
<use href="#mk" x="598.5" y="338.5"/>
<use href="#mk" x="599.3" y="335.5"/>
<use href="#mk" x="598.5" y="332.0"/>
<use href="#mk" x="599.3" y="329.0"/>
<use href="#mk" x="599.3" y="327.6"/>
<use href="#mk" x="601.3" y="327.8"/>
<use href="#mk" x="600.8" y="331.5"/>
<use href="#mk" x="602.0" y="340.0"/>
<use href="#mk" x="600.8" y="344.0"/>
<use href="#mk" x="616.4" y="344.3"/>
<use href="#mk" x="631.0" y="338.7"/>
<use href="#mk" x="638.6" y="334.8"/>
<use href="#mk" x="737.2" y="335.0"/>
<use href="#mk" x="737.6" y="331.6"/>
<use href="#mk" x="737.7" y="328.2"/>
<use href="#mk" x="737.3" y="324.8"/>
<use href="#mk" x="736.8" y="321.4"/>
<use href="#mk" x="736.7" y="318.0"/>
<use href="#mk" x="737.1" y="314.6"/>
<use href="#mk" x="737.5" y="311.2"/>
<use href="#mk" x="737.7" y="307.8"/>
<use href="#mk" x="736.9" y="294.2"/>
<use href="#mk" x="737.4" y="290.8"/>
<use href="#mk" x="737.7" y="287.4"/>
<use href="#mk" x="737.5" y="284.0"/>
<use href="#mk" x="737.1" y="280.6"/>
<use href="#mk" x="736.7" y="277.2"/>
<use href="#mk" x="736.8" y="273.8"/>
<use href="#mk" x="737.3" y="270.4"/>
<use href="#mk" x="737.7" y="267.0"/>
<use href="#mk" x="737.6" y="263.6"/>
<use href="#mk" x="737.2" y="260.2"/>
<use href="#mk" x="736.8" y="256.8"/>
<use href="#mk" x="739.5" y="262.0"/>
<use href="#mk" x="741.5" y="259.0"/>
<use href="#mk" x="743.0" y="263.0"/>
<use href="#mk" x="745.0" y="258.0"/>
<use href="#mk" x="747.0" y="248.5"/>
<use href="#mk" x="748.6" y="251.5"/>
<use href="#mk" x="746.5" y="253.5"/>
<use href="#mk" x="749.5" y="247.5"/>
<use href="#mk" x="758.9" y="253.7"/>
<use href="#mk" x="763.3" y="264.1"/>
<use href="#mk" x="755.4" y="274.6"/>
<use href="#mk" x="777.2" y="276.3"/>
<use href="#mk" x="776.5" y="272.5"/>
<use href="#mk" x="805.0" y="252.8"/>
<use href="#mk" x="811.1" y="256.3"/>
<use href="#mk" x="818.0" y="270.2"/>
<use href="#mk" x="824.7" y="266.7"/>
<use href="#mk" x="874.2" y="263.0"/>
<use href="#mk" x="874.3" y="260.0"/>
<use href="#mk" x="874.4" y="257.1"/>
<use href="#mk" x="874.6" y="254.1"/>
<use href="#mk" x="874.8" y="251.2"/>
<use href="#mk" x="875.0" y="248.2"/>
<use href="#mk" x="875.3" y="245.3"/>
<use href="#mk" x="875.6" y="242.3"/>
<use href="#mk" x="875.9" y="239.4"/>
<use href="#mk" x="876.3" y="236.4"/>
<use href="#mk" x="876.6" y="233.5"/>
<use href="#mk" x="877.0" y="230.5"/>
<use href="#mk" x="877.5" y="227.6"/>
<use href="#mk" x="877.9" y="224.6"/>
<use href="#mk" x="878.4" y="221.7"/>
<use href="#mk" x="878.9" y="218.7"/>
<use href="#mk" x="879.4" y="215.8"/>
<use href="#mk" x="879.9" y="212.8"/>
<use href="#mk" x="880.5" y="209.9"/>
<use href="#mk" x="881.0" y="206.9"/>
<use href="#mk" x="881.6" y="204.0"/>
<use href="#mk" x="882.2" y="201.0"/>
<use href="#mk" x="882.6" y="201.0"/>
<use href="#mk" x="883.6" y="205.0"/>
<use href="#mk" x="884.5" y="199.0"/>
<use href="#mk" x="886.0" y="204.0"/>
<use href="#mk" x="889.0" y="207.0"/>
<use href="#mk" x="891.3" y="208.7"/>
<use href="#mk" x="893.0" y="206.0"/>
<use href="#mk" x="907.8" y="203.5"/>
<use href="#mk" x="907.0" y="212.2"/>
<use href="#mk" x="908.3" y="207.5"/>
<use href="#mk" x="906.5" y="208.5"/>
<use href="#mk" x="909.0" y="200.5"/>
<use href="#mk" x="951.8" y="193.9"/>
<use href="#mk" x="976.0" y="207.0"/>
<use href="#mk" x="993.9" y="209.2"/>
<use href="#mk" x="1009.9" y="202.6"/>
<use href="#mk" x="1011.3" y="209.6"/>
<use href="#mk" x="1055.3" y="209.6"/>
<use href="#mk" x="1067.8" y="213.0"/>
<use href="#mk" x="1082.5" y="206.0"/>
<use href="#mk" x="1083.1" y="203.2"/>
<use href="#mk" x="1083.9" y="200.4"/>
<use href="#mk" x="1083.0" y="198.3"/>
<use href="#mk" x="1083.9" y="195.1"/>
<use href="#mk" x="1085.5" y="192.8"/>
<use href="#mk" x="1085.6" y="190.1"/>
<use href="#mk" x="1085.7" y="187.5"/>
<use href="#mk" x="1086.1" y="185.3"/>
<use href="#mk" x="1086.6" y="182.0"/>
<use href="#mk" x="1087.4" y="179.0"/>
<use href="#mk" x="1087.9" y="176.9"/>
<use href="#mk" x="1087.7" y="174.1"/>
<use href="#mk" x="1089.1" y="172.1"/>
<use href="#mk" x="1089.3" y="169.4"/>
<use href="#mk" x="1089.9" y="166.2"/>
<use href="#mk" x="1090.0" y="162.9"/>
<use href="#mk" x="1090.7" y="159.7"/>
<use href="#mk" x="1092.3" y="156.4"/>
<use href="#mk" x="1091.4" y="154.3"/>
<use href="#mk" x="1093.4" y="152.0"/>
<use href="#mk" x="1093.4" y="149.4"/>
<use href="#mk" x="1093.8" y="147.0"/>
<use href="#mk" x="1094.1" y="144.4"/>
<use href="#mk" x="1095.1" y="141.6"/>
<use href="#mk" x="1096.0" y="138.3"/>
<use href="#mk" x="1097.1" y="135.0"/>
<use href="#mk" x="1098.0" y="131.7"/>
<use href="#mk" x="1099.4" y="129.4"/>
<use href="#mk" x="1088.0" y="166.0"/>
<use href="#mk" x="1091.8" y="163.0"/>
<use href="#mk" x="1087.6" y="169.5"/>
<use href="#mk" x="1092.3" y="160.0"/>
<use href="#mk" x="1100.9" y="124.8"/>
<use href="#mk" x="1103.5" y="117.8"/>
<use href="#mk" x="1105.2" y="113.5"/>
<use href="#mk" x="1101.8" y="121.5"/>
<use href="#mk" x="1109.9" y="107.4"/>
<use href="#mk" x="1115.7" y="100.4"/>
<use href="#mk" x="1118.6" y="96.6"/>
<use href="#mk" x="1133.0" y="87.7"/>
<use href="#mk" x="1146.4" y="86.2"/>
<use href="#mk" x="1169.0" y="71.0"/>
<use href="#mk" x="1181.7" y="68.6"/>
<use href="#mk" x="1196.2" y="70.5"/>
<use href="#mk" x="1200.5" y="71.2"/>
<use href="#mk" x="1204.3" y="71.6"/>
<use href="#mk" x="1217.8" y="70.6"/>
<use href="#mk" x="1228.3" y="64.0"/>
<use href="#mk" x="1257.0" y="61.7"/>
</g></g>
<g stroke="#000" stroke-width="1.7" fill="none">
<path d="M598.1,384.0 v7 M736.4,384.0 v7 M874.7,384.0 v7 M1013.0,384.0 v7 M1151.2,384.0 v7 M1289.5,384.0 v7 M560.4,384.0 h-7 M560.4,313.2 h-7 M560.4,242.5 h-7 M560.4,171.7 h-7 M560.4,101.0 h-7 M560.4,30.2 h-7 "/>
<path d="M560.4,362.7 h-4 M560.4,350.2 h-4 M560.4,341.4 h-4 M560.4,334.5 h-4 M560.4,328.9 h-4 M560.4,324.2 h-4 M560.4,320.1 h-4 M560.4,316.5 h-4 M560.4,291.9 h-4 M560.4,279.5 h-4 M560.4,270.6 h-4 M560.4,263.8 h-4 M560.4,258.2 h-4 M560.4,253.4 h-4 M560.4,249.3 h-4 M560.4,245.7 h-4 M560.4,221.2 h-4 M560.4,208.7 h-4 M560.4,199.9 h-4 M560.4,193.0 h-4 M560.4,187.4 h-4 M560.4,182.7 h-4 M560.4,178.6 h-4 M560.4,175.0 h-4 M560.4,150.4 h-4 M560.4,138.0 h-4 M560.4,129.1 h-4 M560.4,122.3 h-4 M560.4,116.7 h-4 M560.4,111.9 h-4 M560.4,107.8 h-4 M560.4,104.2 h-4 M560.4,79.7 h-4 M560.4,67.2 h-4 M560.4,58.4 h-4 M560.4,51.5 h-4 M560.4,45.9 h-4 M560.4,41.2 h-4 M560.4,37.1 h-4 M560.4,33.4 h-4 " stroke-width="1.3"/>
<rect x="560.4" y="23.7" width="763.6" height="360.3" stroke-width="1.5"/>
</g>
<g font-family="'DejaVu Sans','Liberation Sans',sans-serif" font-size="27" fill="#000">
<text x="598.1" y="418.2" text-anchor="middle">0</text>
<text x="736.4" y="418.2" text-anchor="middle">20</text>
<text x="874.7" y="418.2" text-anchor="middle">40</text>
<text x="1013.0" y="418.2" text-anchor="middle">60</text>
<text x="1151.2" y="418.2" text-anchor="middle">80</text>
<text x="1289.5" y="418.2" text-anchor="middle">100</text>
<text x="545.4" y="394.5" text-anchor="end">10<tspan dy="-10.6" font-size="18.9">−3</tspan></text>
<text x="545.4" y="323.7" text-anchor="end">10<tspan dy="-10.6" font-size="18.9">−2</tspan></text>
<text x="545.4" y="253.0" text-anchor="end">10<tspan dy="-10.6" font-size="18.9">−1</tspan></text>
<text x="545.4" y="182.2" text-anchor="end">10<tspan dy="-10.6" font-size="18.9">0</tspan></text>
<text x="545.4" y="111.5" text-anchor="end">10<tspan dy="-10.6" font-size="18.9">1</tspan></text>
<text x="545.4" y="40.7" text-anchor="end">10<tspan dy="-10.6" font-size="18.9">2</tspan></text>
<text x="942.1" y="453.6" text-anchor="middle" font-size="29.3">Simulation Time (ps)</text>
<text transform="translate(468.9 271.4) rotate(-90)" font-size="29.4">MSD <tspan dx="-0.8">(</tspan><tspan font-style="oblique">Å</tspan><tspan dy="-10.8" dx="2" font-size="20.6">2</tspan><tspan dy="10.8" dx="1">)</tspan></text>
</g>
<rect x="573.8" y="37" width="206.2" height="207" rx="4" ry="4" fill="#ffffff" fill-opacity="0.8" stroke="#cccccc" stroke-opacity="0.8" stroke-width="2"/>
<use href="#mk" x="611.8" y="62" fill="#ff0000"/>
<rect x="584.6" y="89.30" width="54.2" height="19" fill="#fef5ea"/>
<rect x="584.6" y="129.25" width="54.2" height="19" fill="#fee8d1"/>
<rect x="584.6" y="169.25" width="54.2" height="19" fill="#feddc4"/>
<rect x="584.6" y="209.25" width="54.2" height="19" fill="#fcc5ae"/>
<g font-family="'DejaVu Sans','Liberation Sans',sans-serif" font-size="27" fill="#000">
<text x="660.7" y="69.20">DFT call</text>
<text x="660.7" y="108.80">50K</text>
<text x="660.7" y="148.65">300K</text>
<text x="660.7" y="188.65">500K</text>
<text x="660.7" y="228.65">800K</text>
</g>
</g>
</svg>
</body>
</html>
